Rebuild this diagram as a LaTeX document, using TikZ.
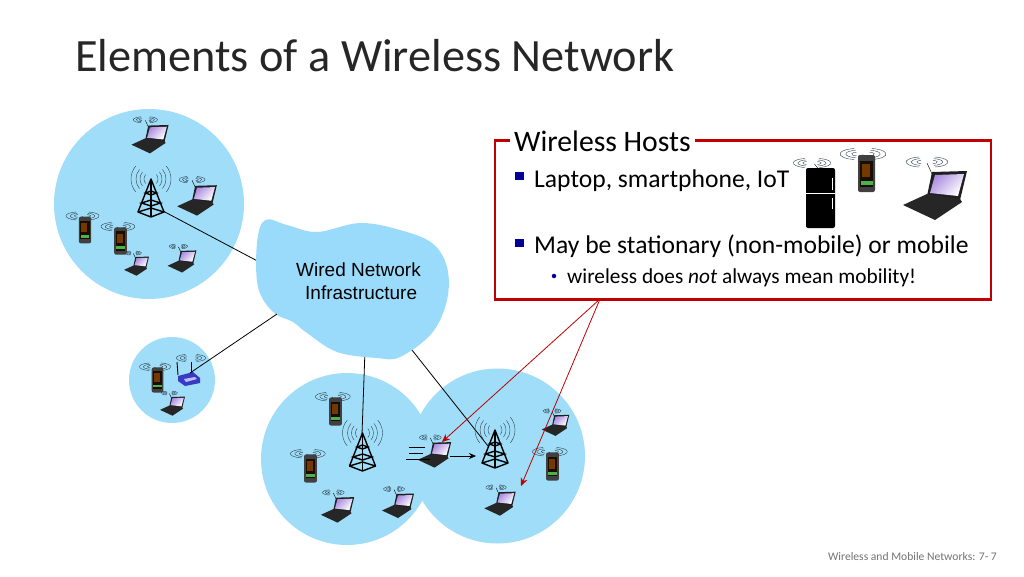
\documentclass[tikz,border=0pt]{standalone}
\usepackage{fontspec}
\setmainfont{Carlito}
\newfontfamily\wiredfont{Liberation Sans}
\usetikzlibrary{arrows.meta}
\definecolor{cellblue}{HTML}{9FDDF8}
\definecolor{cloudblue}{HTML}{9ADBFC}
\definecolor{boxred}{HTML}{C00000}
\definecolor{bulletblue}{HTML}{000099}
\definecolor{wavegray}{HTML}{2F4050}
\tikzset{
  cell/.style={fill=cellblue, draw=none},
  link/.style={draw=black, line width=0.8pt},
  redarrow/.style={draw=boxred, line width=0.8pt, -{Stealth[length=8pt,width=7pt]}},
  slidetext/.style={anchor=base west, inner sep=0pt, text=black},
  waves/.pic={
    \foreach \r in {1,2,3} {
      \draw[wavegray, line width=0.4pt] (-5,0) ++(100:{5.3*\r} and {1.7*\r}) arc[start angle=100, end angle=260, x radius=5.3*\r, y radius=1.7*\r];
      \draw[wavegray, line width=0.4pt] (5,0) ++(80:{5.3*\r} and {1.7*\r}) arc[start angle=80, end angle=-80, x radius=5.3*\r, y radius=1.7*\r];
    }
  },
  laptop/.pic={
    \draw[black, line width=0.4pt] (-3,-16) -- (-8,-27);
    \pic[transform shape] at (-8,-28) {waves};
    \fill[black!88] (-3,-18) -- (32,-19) -- (25,10) -- (-8,6) -- cycle;
    \path[top color=blue!45!violet!45, middle color=white, bottom color=white, shading angle=45] (0,-15) -- (29,-16) -- (23,6) -- (-5,3) -- cycle;
    \fill[black!85] (-8,4) -- (25,9) -- (27,12) -- (0,30) -- (-32,15) -- cycle;
  },
  phone/.pic={
    \draw[black, line width=0.4pt] (-5,-16) -- (-3.5,-19);
    \pic[transform shape, scale=1.1] at (-3.5,-19.5) {waves};
    \fill[black!75, rounded corners=2pt] (-8.5,-18.5) rectangle (8.5,18.5);
    \fill[black!90!orange] (-6.5,-13) rectangle (6.5,13);
    \fill[orange!45!black] (-5,-10) rectangle (3,3);
    \fill[green!40!gray] (-6,7) rectangle (6,11);
  },
  tower/.pic={
    \foreach \r in {7,11,15,20} {
      \draw[wavegray, line width=0.4pt] (-40:\r) arc[start angle=-40, end angle=40, radius=\r];
      \draw[wavegray, line width=0.4pt] (140:\r) arc[start angle=140, end angle=220, radius=\r];
    }
    \draw[black, line width=1.4pt, line join=round] (-13,33) -- (0,0) -- (13,33) -- (0,38) -- cycle;
    \draw[black, line width=1.4pt] (0,0) -- (0,38);
    \draw[black, line width=1.4pt] (-13,33) -- (0,29) -- (13,33);
    \draw[black, line width=1.4pt] (-9.5,24) -- (0,27) -- (9.5,24) -- (0,21) -- cycle;
    \draw[black, line width=1.4pt] (-5.5,14) -- (0,16) -- (5.5,14) -- (0,12) -- cycle;
  },
  router/.pic={
    \pic[transform shape, scale=.7] at (2,-20) {waves};
    \draw[black, line width=0.9pt] (-11,-3) -- (-12,-16);
    \draw[black, line width=0.9pt] (2,-5) -- (2,-16);
    \fill[blue!55!gray] (-11,-2) -- (4,-6) -- (11,0) -- (11,5) -- (-4,8) -- (-11,3) -- cycle;
    \fill[blue!25!white] (-5,1) -- (6,-1) -- (8,1) -- (-3,4) -- cycle;
  },
  fridge/.pic={
    \draw[black, line width=0.4pt] (-2,-29) -- (-6,-34);
    \pic[transform shape, scale=.9] at (-8.5,-35) {waves};
    \fill[black, rounded corners=2pt] (-14.5,-30) rectangle (14.5,30);
    \draw[white, line width=0.7pt] (-14.5,-4.5) -- (14.5,-4.5);
    \draw[white, line width=1.2pt] (12,-20) -- (12,-8);
    \draw[white, line width=1.2pt] (12,0) -- (12,11);
  }
}

\begin{document}
\begin{tikzpicture}[x=1pt, y=-1pt]
  \useasboundingbox (0,0) rectangle (1024,576);

  \node[slidetext, font=\fontsize{46.3}{50}\selectfont, text=black!85] (title) at (75,71) {Elements of a Wireless Network};

  % coverage cells
  \fill[cell] (149,204) circle[radius=95];
  \fill[cell] (172,380) circle[radius=43];
  \fill[cell] (347,459) circle[radius=86];
  \fill[cell] (497.5,456) circle[radius=87.5];

  % links to the cloud
  \coordinate (cloudwest) at (265,265);
  \coordinate (cloudsouthwest) at (277,314);
  \coordinate (cloudsouth) at (365,350);
  \coordinate (cloudsoutheast) at (408,345);
  \coordinate (basefoot) at (163,211);
  \coordinate (routerfoot) at (190,373);
  \coordinate (lefttop) at (362,434);
  \coordinate (rightfoot) at (488,446);
  \draw[link] (basefoot) -- (cloudwest);
  \draw[link] (lefttop) -- (cloudsouth);
  \draw[link] (rightfoot) -- (cloudsoutheast);

  \fill[cloudblue] plot[smooth cycle, tension=0.6] coordinates {(265,220) (287,225) (317,232) (360,223) (400,230) (432,243) (447,267) (447,300) (432,333) (400,357) (377,358) (337,352) (307,333) (293,322) (273,312) (258,287) (257,243)};
  \node[anchor=west, inner sep=0pt, align=left, font=\fontsize{19}{23}\wiredfont] (wired) at (296,281.5) {Wired Network\\[0pt]\hspace*{9pt}Infrastructure};

  % base stations
  \pic at (151,179) {tower};
  \pic at (362.5,433) {tower};
  \pic at (495,430) {tower};

  % upper cell
  \pic[scale=.58] at (150,136) {laptop};
  \pic[scale=.62] at (197,197) {laptop};
  \pic[scale=.39] at (136.5,264) {laptop};
  \pic[scale=.45] at (182,259) {laptop};
  \pic[scale=.72] at (85,230) {phone};
  \pic[scale=.74] at (120.5,241) {phone};

  % router cell
  \pic at (189,378) {router};
  \draw[link] (routerfoot) -- (cloudsouthwest);
  \pic[scale=.68] at (157.5,380) {phone};
  \pic[scale=.39] at (172.5,404) {laptop};

  % lower cells
  \pic[scale=.76] at (335.5,411.5) {phone};
  \pic[scale=.76] at (310.5,468.5) {phone};
  \pic[scale=.76] at (552.5,466.5) {phone};
  \pic[scale=.52] at (337.5,507) {laptop};
  \pic[scale=.5] at (398,503) {laptop};
  \pic[scale=.52] at (434.5,452) {laptop};
  \pic[scale=.49] at (500,501) {laptop};
  \pic[scale=.43] at (555.5,423) {laptop};

  % moving host
  \coordinate (tailone) at (409,447);
  \coordinate (headone) at (425,447);
  \coordinate (tailtwo) at (409,453);
  \coordinate (headtwo) at (423,453);
  \coordinate (tailthree) at (406,459);
  \coordinate (headthree) at (430,459);
  \coordinate (movefrom) at (450,456);
  \coordinate (moveto) at (476,456);
  \draw[black, line width=0.7pt] (tailone) -- (headone);
  \draw[black, line width=0.7pt] (tailtwo) -- (headtwo);
  \draw[black, line width=0.7pt] (tailthree) -- (headthree);
  \draw[black, line width=0.7pt, -{Stealth[length=7pt,width=6pt]}] (movefrom) -- (moveto);

  % hosts box
  \node[draw=boxred, line width=2.8pt, minimum width=496pt, minimum height=159pt, inner sep=0pt, anchor=north west] (hostbox) at (493.5,139) {};
  \coordinate (boxfoot) at (600,299);
  \coordinate (hostone) at (442,442);
  \coordinate (hosttwo) at (521,486);
  \draw[redarrow] (boxfoot) -- (hostone);
  \draw[redarrow] (boxfoot) -- (hosttwo);

  \node[slidetext, fill=white, font=\fontsize{29.7}{32}\selectfont, inner xsep=4pt, inner ysep=4pt] (hoststitle) at (510,151) {Wireless Hosts};
  \node[fill=bulletblue, minimum size=8.5pt, inner sep=0pt] (bulletone) at (519.5,176) {};
  \node[slidetext, font=\fontsize{25.6}{28}\selectfont] (hostkinds) at (534,187) {Laptop, smartphone, IoT};
  \node[fill=bulletblue, minimum size=8.5pt, inner sep=0pt] (bullettwo) at (519.5,243) {};
  \node[slidetext, font=\fontsize{25.6}{28}\selectfont] (hostmobile) at (534,253) {May be stationary (non-mobile) or mobile};
  \node[circle, fill=bulletblue, minimum size=4.5pt, inner sep=0pt] (bulletthree) at (554,276) {};
  \node[slidetext, font=\fontsize{21.3}{24}\selectfont] (hostnote) at (567,283) {wireless does \textit{not} always mean mobility!};

  \pic at (820.5,198) {fridge};
  \pic at (866.5,173.5) {phone};
  \pic at (935,190) {laptop};

  \node[anchor=base east, inner sep=0pt, text=black!55, font=\fontsize{11.6}{14}\selectfont] (footer) at (997,560) {Wireless and Mobile Networks: 7- 7};
\end{tikzpicture}
\end{document}
